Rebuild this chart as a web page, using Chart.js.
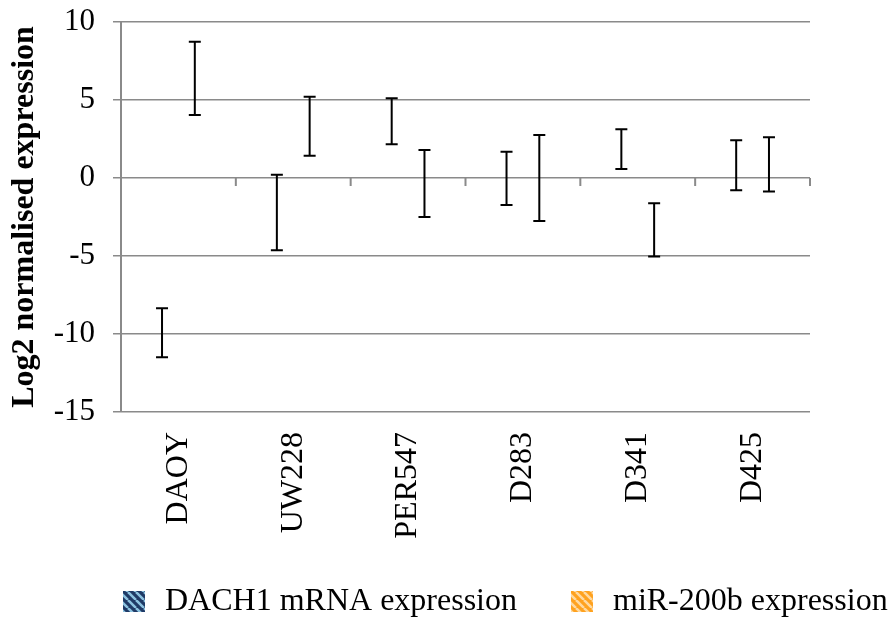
<!DOCTYPE html>
<html>
<head>
<meta charset="utf-8">
<script src="https://cdn.jsdelivr.net/npm/chart.js@4.4.1/dist/chart.umd.min.js"></script>
<style>
  html, body { margin: 0; padding: 0; background: #fff; }
  #wrap { width: 891px; height: 621px; }
</style>
</head>
<body>
<div id="wrap"><canvas id="myChart" width="891" height="621"></canvas></div>
<script>
// cell lines and log2 values (mean +/- error)
const lineas = ['DAOY', 'UW228', 'PER547', 'D283', 'D341', 'D425'];
const dach1 = [-9.92, -2.21, 3.64, -0.02, 1.85, 0.82];
const dach1Err = [1.57, 2.42, 1.47, 1.71, 1.27, 1.60];
const mir200b = [6.39, 3.32, -0.35, 0.0, -3.33, 0.87];
const mir200bErr = [2.35, 1.89, 2.15, 2.75, 1.71, 1.74];
const yTicks = [10, 5, 0, -5, -10, -15];

const FUENTE = "'Liberation Serif', 'Times New Roman', serif";
const GRIS = '#8a8a8a';

// hatched fill used by the legend boxes
function rayado(fondo, raya){
    const c = document.createElement('canvas');
    c.width = 8; c.height = 8;
    const g = c.getContext('2d');
    g.fillStyle = fondo;
    g.fillRect(0, 0, 8, 8);
    g.strokeStyle = raya;
    g.lineWidth = 2.5;
    g.beginPath();
    for(let k = -8; k <= 16; k += 8){
        g.moveTo(k, 0);
        g.lineTo(k + 8, 8);
    }
    g.stroke();
    return g.createPattern(c, 'repeat');
}

const series = [
    {label: 'DACH1 mRNA expression', data: dach1, err: dach1Err, fondo: '#1f3a66', raya: '#8cc2e0'},
    {label: 'miR-200b expression', data: mir200b, err: mir200bErr, fondo: '#ffa21f', raya: '#ffd9a0'}
];

// error bars drawn on top of the (unfilled) bars
const barrasError = {
    id: 'barrasError',
    afterDatasetsDraw(chart){
        const ctx = chart.ctx;
        const y = chart.scales.y;
        ctx.save();
        ctx.strokeStyle = '#000';
        ctx.lineWidth = 2;
        chart.data.datasets.forEach((ds, d) => {
            const meta = chart.getDatasetMeta(d);
            meta.data.forEach((el, i) => {
                const v = ds.data[i], e = series[d].err[i];
                const top = y.getPixelForValue(v + e);
                const bot = y.getPixelForValue(v - e);
                ctx.beginPath();
                ctx.moveTo(el.x, top); ctx.lineTo(el.x, bot);
                ctx.moveTo(el.x - 6, top); ctx.lineTo(el.x + 6, top);
                ctx.moveTo(el.x - 6, bot); ctx.lineTo(el.x + 6, bot);
                ctx.stroke();
            });
        });
        ctx.restore();
    }
};

// category tick marks hanging from the zero line
const ejeCero = {
    id: 'ejeCero',
    beforeDatasetsDraw(chart){
        const ctx = chart.ctx;
        const x = chart.scales.x, y = chart.scales.y;
        const y0 = y.getPixelForValue(0);
        ctx.save();
        ctx.strokeStyle = GRIS;
        ctx.lineWidth = 2;
        ctx.beginPath();
        for(let i = 0; i < lineas.length; i++){
            const px = x.getPixelForValue(i + 0.5);
            ctx.moveTo(px, y0); ctx.lineTo(px, y0 + 8);
        }
        ctx.stroke();
        ctx.restore();
    }
};

// legend with hatched boxes under the chart
const leyenda = {
    id: 'leyenda',
    afterDraw(chart){
        const ctx = chart.ctx;
        ctx.save();
        ctx.font = '32px ' + FUENTE;
        ctx.textBaseline = 'middle';
        ctx.fillStyle = '#000';
        let px = 123;
        const cy = 601;
        series.forEach((s, d) => {
            ctx.fillStyle = rayado(s.fondo, s.raya);
            ctx.fillRect(px, cy - 10, 22, 21);
            ctx.fillStyle = '#000';
            ctx.fillText(s.label, px + 42, cy + 1);
            px += 42 + ctx.measureText(s.label).width + 54;
        });
        ctx.restore();
    }
};

new Chart('myChart', {
    type: 'bar',
    data: {
        labels: lineas,
        datasets: series.map(s => ({
            label: s.label,
            data: s.data,
            backgroundColor: 'rgba(0,0,0,0)',
            borderWidth: 0,
            categoryPercentage: 0.571,
            barPercentage: 1
        }))
    },
    options: {
        responsive: false,
        animation: false,
        layout: {padding: {top: 22, right: 81, bottom: 69, left: 0}},
        plugins: {
            legend: {display: false},
            tooltip: {enabled: false}
        },
        scales: {
            x: {
                grid: {display: false},
                border: {display: false},
                ticks: {
                    color: '#000',
                    font: {family: FUENTE, size: 32},
                    minRotation: 90,
                    maxRotation: 90,
                    autoSkip: false,
                    padding: 12
                },
                afterFit: s => {
                    s.height = 140;
                    s.paddingLeft = 0;
                    s.paddingRight = 0;
                }
            },
            y: {
                min: -15,
                max: 10,
                afterBuildTicks: s => { s.ticks = yTicks.map(v => ({value: v})); },
                grid: {color: GRIS, lineWidth: 1.5, tickLength: 8},
                border: {color: GRIS, width: 2},
                ticks: {
                    color: '#000',
                    font: {family: FUENTE, size: 31},
                    padding: 18
                },
                title: {
                    display: true,
                    text: 'Log2 normalised expression',
                    color: '#000',
                    font: {family: FUENTE, size: 32, weight: 'bold'},
                    padding: {top: 6, bottom: 0}
                },
                afterFit: s => {
                    s.width = 121;
                    s.paddingTop = 0;
                    s.paddingBottom = 0;
                }
            }
        }
    },
    plugins: [ejeCero, barrasError, leyenda]
});
</script>
</body>
</html>
